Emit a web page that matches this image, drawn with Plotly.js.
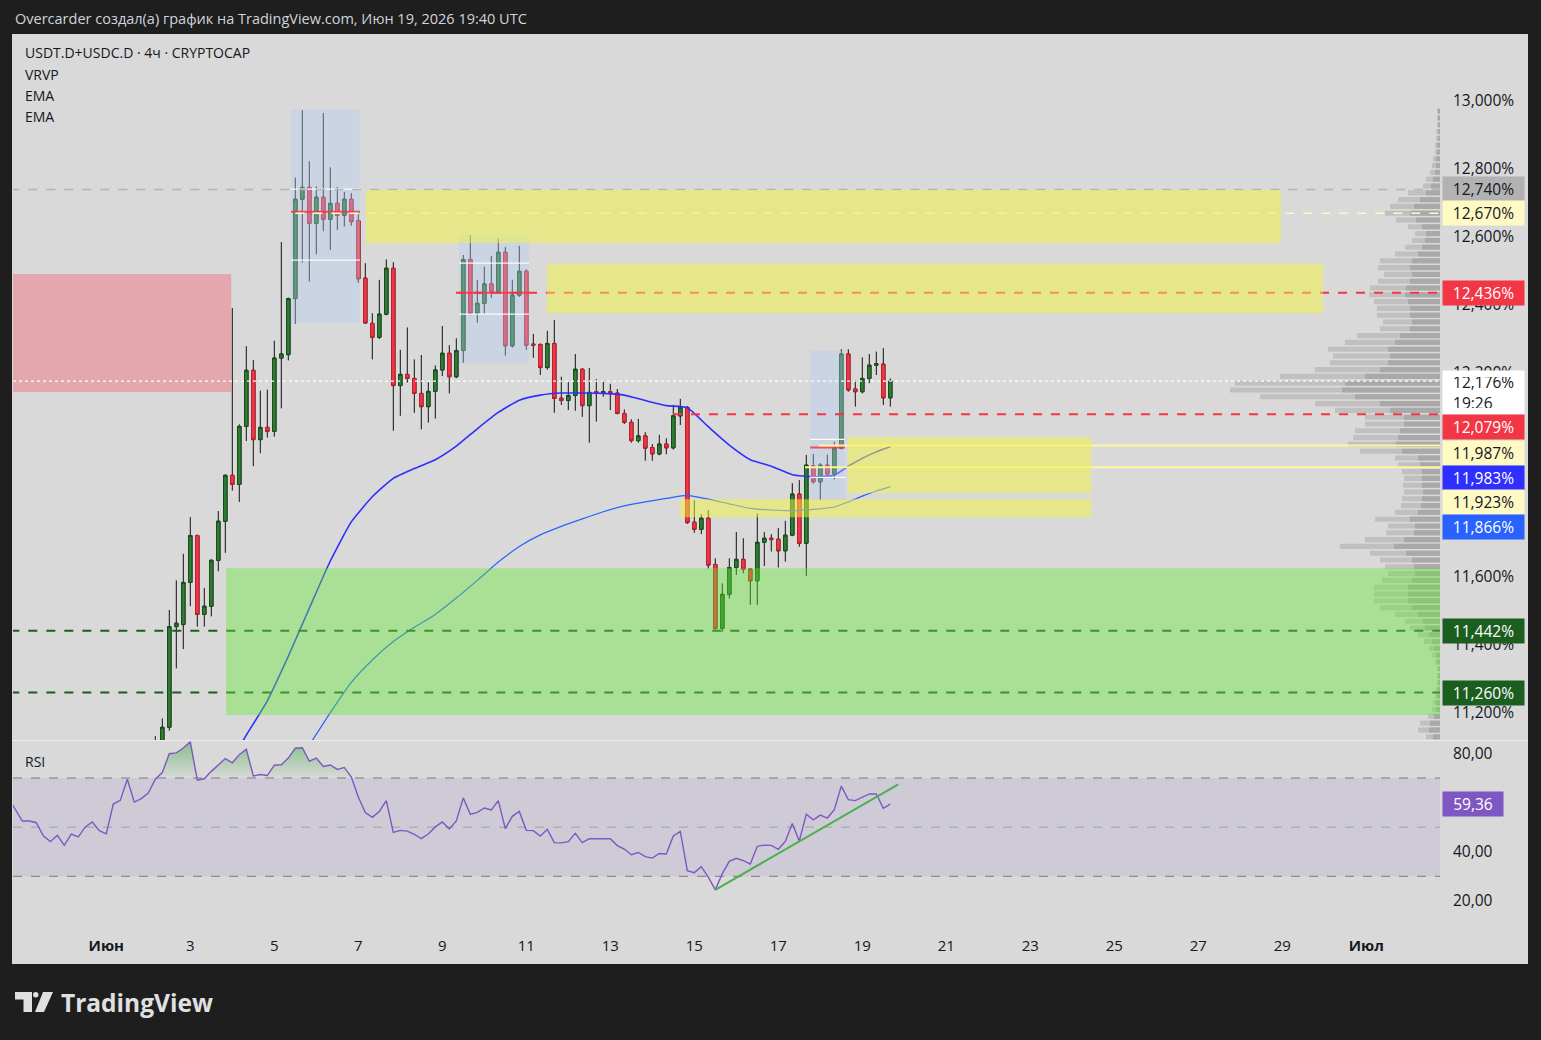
<!DOCTYPE html>
<html><head><meta charset="utf-8">
<script src="https://cdn.plot.ly/plotly-3.0.1.min.js"></script>
<style>html,body{margin:0;padding:0;background:#1e1e1e;}#chart{width:1541px;height:1040px;}</style>
</head><body><div id="chart"></div>
<script>
// ---------- DATA ----------
// 4h candles, index 0 = 2026-06-02 08:00 UTC, first entry is index -3
const candleFirstIndex = -3;
const opens = [
 10.98,11.00,11.04,11.08,11.158,11.454,11.46,11.584,11.722,11.49,
 11.514,11.649,11.764,11.899,11.872,12.043,12.208,12.004,12.04,12.028,
 12.244,12.254,12.419,12.711,12.746,12.64,12.717,12.652,12.699,12.664,
 12.711,12.648,12.479,12.346,12.305,12.373,12.508,12.163,12.196,12.184,
 12.14,12.101,12.146,12.209,12.258,12.189,12.266,12.534,12.376,12.405,
 12.462,12.439,12.555,12.28,12.429,12.499,12.285,12.284,12.216,12.287,
 12.126,12.119,12.134,12.211,12.104,12.145,12.142,12.145,12.141,12.081,
 12.055,12.001,12.015,11.981,11.962,11.991,11.98,12.074,12.099,11.761,
 11.74,11.773,11.637,11.449,11.549,11.628,11.652,11.623,11.589,11.702,
 11.714,11.711,11.677,11.723,11.844,11.699,11.927,11.88,11.929,11.903,
 11.979,12.256,12.153,12.145,12.184,12.223,12.226,12.127];
const highs = [
 11.02,11.06,11.132,11.184,11.503,11.59,11.668,11.776,11.725,11.568,
 11.652,11.794,11.902,12.391,12.049,12.279,12.238,12.148,12.151,12.295,
 12.585,12.422,12.775,12.973,12.823,12.749,12.965,12.805,12.747,12.733,
 12.729,12.667,12.523,12.376,12.474,12.534,12.526,12.268,12.334,12.24,
 12.253,12.173,12.222,12.338,12.282,12.302,12.547,12.606,12.474,12.513,
 12.544,12.596,12.571,12.474,12.574,12.505,12.315,12.287,12.324,12.356,
 12.189,12.173,12.256,12.214,12.215,12.182,12.177,12.168,12.153,12.093,
 12.064,12.065,12.026,11.991,12.018,12.008,12.106,12.124,12.103,11.826,
 11.785,11.797,11.655,11.581,11.655,11.732,11.714,11.626,11.787,11.732,
 11.726,11.744,11.765,11.876,11.885,11.959,11.962,11.935,11.96,11.998,
 12.27,12.27,12.179,12.246,12.256,12.263,12.273,12.184];
const lows = [
 10.95,10.98,11.02,11.06,11.148,11.331,11.388,11.514,11.454,11.454,
 11.484,11.617,11.671,11.854,11.821,12.0,11.926,11.964,12.01,12.013,
 12.096,12.237,12.345,12.525,12.469,12.549,12.617,12.562,12.621,12.631,
 12.633,12.465,12.345,12.24,12.30,12.37,12.03,12.074,12.172,12.083,
 12.034,12.054,12.066,12.191,12.14,12.185,12.23,12.37,12.348,12.374,
 12.421,12.435,12.251,12.275,12.424,12.268,12.245,12.194,12.21,12.083,
 12.106,12.091,12.089,12.071,11.995,12.057,12.13,12.091,12.078,12.05,
 11.995,11.995,11.942,11.942,11.958,11.961,11.975,12.047,11.756,11.73,
 11.726,11.625,11.445,11.439,11.537,11.606,11.611,11.518,11.518,11.632,
 11.675,11.628,11.645,11.72,11.689,11.603,11.875,11.826,11.9,11.887,
 11.975,12.145,12.101,12.14,12.17,12.194,12.106,12.101];
const closes = [
 11.00,11.04,11.08,11.158,11.454,11.464,11.584,11.722,11.49,11.514,
 11.649,11.764,11.899,11.872,12.043,12.208,12.004,12.04,12.028,12.244,
 12.256,12.419,12.711,12.746,12.64,12.717,12.652,12.699,12.664,12.711,
 12.645,12.477,12.347,12.305,12.373,12.508,12.163,12.196,12.184,12.14,
 12.101,12.146,12.209,12.258,12.189,12.266,12.534,12.376,12.405,12.462,
 12.439,12.555,12.28,12.429,12.499,12.282,12.282,12.216,12.287,12.125,
 12.119,12.134,12.211,12.104,12.143,12.142,12.145,12.142,12.081,12.055,
 12.001,12.015,11.979,11.962,11.991,11.98,12.074,12.099,11.76,11.74,
 11.773,11.635,11.449,11.549,11.628,11.652,11.623,11.589,11.702,11.714,
 11.71,11.677,11.723,11.844,11.699,11.929,11.88,11.929,11.903,11.979,
 12.256,12.15,12.145,12.184,12.223,12.227,12.127,12.176];

// EMA lines, read at these candle indices
const emaIndex = [9,12,15,18,21,24,27,30,33,36,39,42,45,48,51,54,57,60,63,66,69,72,75,78,81,84,87,90,93,96,98,100,102,104];
const emaFast = [11.03,11.135,11.236,11.367,11.508,11.647,11.762,11.836,11.890,11.919,11.945,11.985,12.036,12.084,12.120,12.135,12.141,12.141,12.140,12.135,12.119,12.104,12.098,12.042,11.988,11.945,11.926,11.901,11.895,11.899,11.926,11.949,11.968,11.983];
const emaSlow = [null,null,null,11.02,11.106,11.201,11.290,11.356,11.410,11.452,11.490,11.538,11.590,11.644,11.690,11.724,11.749,11.771,11.792,11.809,11.821,11.831,11.840,11.829,11.815,11.802,11.797,11.795,11.799,11.806,11.821,11.838,11.853,11.866];

// RSI, first value at candle index -22
const rsiFirstIndex = -22;
const rsiValues = [
 62,57.0,52.5,52.5,51.8,46.5,44.1,46.7,42.6,47.2,
 46.0,50.1,52.1,48.6,47.3,59.4,60.9,69.5,60.2,61.6,
 63.9,69.5,72.2,79.9,80.2,82.2,84.7,69.1,69.7,72.7,
 75.2,77.9,76.2,79.5,81.7,70.8,71.4,71.0,75.2,75.4,
 78.1,82.1,82.3,76.9,78.1,74.7,75.3,73.5,74.3,70.4,
 62.3,55.9,54.0,56.4,60.8,47.9,48.7,48.4,47.1,45.3,
 47.2,50.1,52.1,49.3,52.5,61.9,55.2,56.0,57.8,57.0,
 60.8,49.4,54.4,56.4,48.7,48.6,46.4,49.1,43.7,43.6,
 44.1,47.5,43.7,45.3,45.3,45.3,45.3,42.5,41.1,38.8,
 39.7,38.0,37.4,39.3,39.1,46.4,48.3,32.3,31.5,33.9,
 29.7,24.5,31.1,36.1,37.3,36.4,35.0,42.2,42.7,42.6,
 41.0,44.2,51.5,44.4,55.3,53.0,54.9,53.7,57.1,66.7,
 61.2,60.8,62.3,63.5,63.5,57.7,59.36];

// Visible range volume profile: rows from 12.97 down by 0.02
const vpTopPrice = 12.97, vpRowStep = 0.02;
const vpTotal = [3,3,3,4,4,5,5,7,8,10, 14,17,32,42,50,55,44,32,25,28, 35,45,60,62,56,62,70,71,66,63,
 63,57,60,83,95,112,107,110,125,160, 205,210,180,125,105,75,75,85,87,92, 80,45,42,38,36,37,36,38,39,45,
 65,52,54,75,100,70,60,55,52,58, 66,66,66,60,45,35,30,22,16,11, 8,5,3,3,3,4,5,7,8,12, 20,22,14];
const vpUp = [2,2,2,2,2,3,3,4,4,5, 7,9,14,20,26,30,24,18,14,15, 18,22,28,30,28,30,34,35,32,30,
 30,28,30,40,45,52,50,52,60,75, 95,98,85,60,50,36,36,40,42,44, 38,22,20,18,18,18,17,18,19,22,
 30,25,26,36,46,34,28,26,25,28, 32,32,32,28,22,17,15,11,8,6, 4,3,2,2,2,2,3,4,4,6, 10,11,7];

// zones (price boxes)
const zoneNames  = ['supply','yellow1','yellow2','yellow3','yellow4','demand'];
const zoneStart  = ['2026-05-28 00:00','2026-06-07 04:24','2026-06-11 11:50','2026-06-18 15:50','2026-06-14 15:50','2026-06-03 20:24'];
const zoneEnd    = ['2026-06-03 23:22','2026-06-28 23:15','2026-06-29 23:15','2026-06-24 10:41','2026-06-24 10:41','2026-07-05 00:00'];
const zoneTop    = [12.491,12.738,12.521,12.012,11.829,11.626];
const zoneBottom = [12.144,12.582,12.376,11.847,11.776,11.194];

// horizontal levels
const levelPrice = [12.740,12.670,12.436,12.079,11.987,11.923,11.442,11.260];
const levelStart = ['2026-05-28 00:00','2026-06-05 12:00','2026-06-09 07:50','2026-06-14 11:50','2026-06-17 23:15','2026-06-17 15:16','2026-05-28 00:00','2026-05-28 00:00'];
const lastPrice = 12.176, lastRsi = 59.36, emaFastLast = 11.983, emaSlowLast = 11.866;
const countdown = '19:26';

// fixed range volume profile boxes
const vpBoxStart = ['2026-06-05 09:33','2026-06-09 09:33','2026-06-17 18:07'];
const vpBoxEnd   = ['2026-06-07 00:58','2026-06-11 01:32','2026-06-18 14:07'];
const vpBoxHigh  = [12.974,12.606,12.266];
const vpBoxLow   = [12.347,12.228,11.826];
const vpBoxVAH   = [12.741,12.523,12.005];
const vpBoxVAL   = [12.532,12.373,11.893];
const vpBoxPOC   = [12.674,12.436,11.981];

// RSI trend line
const trendStart = ['2026-06-15 12:00', 24.5];
const trendEnd   = ['2026-06-19 20:34', 67.4];

const xTickDates = ['2026-06-01','2026-06-03','2026-06-05','2026-06-07','2026-06-09','2026-06-11','2026-06-13','2026-06-15','2026-06-17','2026-06-19','2026-06-21','2026-06-23','2026-06-25','2026-06-27','2026-06-29','2026-07-01'];
const xTickText  = ['<b>Июн</b>','3','5','7','9','11','13','15','17','19','21','23','25','27','29','<b>Июл</b>'];
const priceTicks = [11.2,11.4,11.6,12.2,12.4,12.6,12.8,13.0];
const rsiTicks = [20,40,80];

// ---------- HELPERS ----------
function tIdx(k){ const d=new Date(Date.UTC(2026,5,2,8)+k*4*3600e3); return d.toISOString().slice(0,16).replace('T',' '); }
const L=13,R=1440,T=35,B=928;
const px = x => (x-L)/(R-L);
const py = y => (B-y)/(B-T);
const FONT = 'Open Sans, Noto Sans, sans-serif';
const TXT = '#131722';
const AX = 15.5;
const fmt = (v,d)=>v.toFixed(d).replace('.',',');

const cx = opens.map((_,i)=>tIdx(i+candleFirstIndex));
const bodyHi = opens.map((o,i)=>Math.max(o,closes[i]));
const bodyLo = opens.map((o,i)=>Math.min(o,closes[i]));
const rsiX = rsiValues.map((_,i)=>tIdx(i+rsiFirstIndex));
const emaX = emaIndex.map(k=>tIdx(k));
const vpY = vpTotal.map((_,i)=>+(vpTopPrice - i*vpRowStep).toFixed(3));

const traces = [
 {type:'bar', orientation:'h', x:vpTotal, y:vpY, xaxis:'x2', yaxis:'y', width:0.015, marker:{color:'#c0c0c0'}, hoverinfo:'skip', showlegend:false},
 {type:'bar', orientation:'h', x:vpUp, y:vpY, xaxis:'x2', yaxis:'y', width:0.015, marker:{color:'#a9a9a9'}, hoverinfo:'skip', showlegend:false},
 {type:'candlestick', x:cx, open:opens, high:highs, low:lows, close:closes, xaxis:'x', yaxis:'y',
  increasing:{line:{color:'#111111',width:1}, fillcolor:'#2e7d32'}, decreasing:{line:{color:'#111111',width:1}, fillcolor:'#f23645'},
  whiskerwidth:0, hoverinfo:'skip', showlegend:false},
 {type:'candlestick', x:cx, open:opens, high:bodyHi, low:bodyLo, close:closes, xaxis:'x', yaxis:'y',
  increasing:{line:{color:'#1b4d1e',width:1}, fillcolor:'#2e7d32'}, decreasing:{line:{color:'#c2202f',width:1}, fillcolor:'#f23645'},
  whiskerwidth:0, hoverinfo:'skip', showlegend:false},
 {type:'scatter', mode:'lines', x:emaX, y:emaSlow, line:{color:'#2962ff', width:1.2, shape:'spline', smoothing:0.5}, xaxis:'x', yaxis:'y', hoverinfo:'skip', showlegend:false},
 {type:'scatter', mode:'lines', x:emaX, y:emaFast, line:{color:'#2f2fff', width:1.6, shape:'spline', smoothing:0.5}, xaxis:'x', yaxis:'y', hoverinfo:'skip', showlegend:false},
 {type:'scatter', mode:'lines', x:rsiX, y:rsiValues.map(()=>70), line:{width:0, color:'rgba(0,0,0,0)'}, xaxis:'x', yaxis:'y2', hoverinfo:'skip', showlegend:false},
 {type:'scatter', mode:'lines', x:rsiX, y:rsiValues.map(v=>Math.max(v,70)), line:{width:0, color:'rgba(0,0,0,0)'}, fill:'tonexty',
  fillgradient:{type:'vertical', start:70, stop:85, colorscale:[[0,'rgba(76,175,80,0)'],[1,'rgba(76,175,80,0.6)']]},
  xaxis:'x', yaxis:'y2', hoverinfo:'skip', showlegend:false},
 {type:'scatter', mode:'lines', x:rsiX, y:rsiValues, line:{color:'#7e57c2', width:1.4}, xaxis:'x', yaxis:'y2', hoverinfo:'skip', showlegend:false}
];

const shapes = [];
// frame
shapes.push({type:'rect', xref:'paper', yref:'paper', x0:px(12), x1:px(1528), y0:py(34), y1:py(964), fillcolor:'#d9d9d9', line:{width:0}, layer:'below'});
// RSI band and levels
shapes.push({type:'rect', xref:'paper', yref:'y2', x0:0, x1:1, y0:30, y1:70, fillcolor:'rgba(126,87,194,0.1)', line:{width:0}, layer:'below'});
[70,30].forEach(v=>shapes.push({type:'line', xref:'paper', yref:'y2', x0:0, x1:1, y0:v, y1:v, line:{color:'#787b86', width:1, dash:'dash'}, layer:'below'}));
shapes.push({type:'line', xref:'paper', yref:'y2', x0:0, x1:1, y0:50, y1:50, line:{color:'rgba(120,123,134,0.55)', width:1, dash:'dash'}, layer:'below'});
// pane separator
shapes.push({type:'line', xref:'paper', yref:'paper', x0:px(12), x1:px(1528), y0:py(740.5), y1:py(740.5), line:{color:'#eeeeee', width:1}, layer:'above'});
// VP boxes
vpBoxStart.forEach((s,i)=>{
  shapes.push({type:'rect', xref:'x', yref:'y', x0:s, x1:vpBoxEnd[i], y0:vpBoxLow[i], y1:vpBoxHigh[i], fillcolor:'rgba(180,205,245,0.38)', line:{width:0}, layer:'above'});
  [vpBoxVAH[i], vpBoxVAL[i]].forEach(v=>shapes.push({type:'line', xref:'x', yref:'y', x0:s, x1:vpBoxEnd[i], y0:v, y1:v, line:{color:'rgba(255,255,255,0.9)', width:1.2}, layer:'above'}));
  shapes.push({type:'line', xref:'x', yref:'y', x0:s, x1:vpBoxEnd[i], y0:vpBoxPOC[i], y1:vpBoxPOC[i], line:{color:'rgba(242,54,69,0.85)', width:2}, layer:'above'});
});
// horizontal levels
const levelStyle = [
 {color:'#b5b5b5', width:1.5, dash:'dash'},
 {color:'#fff9c4', width:1.5, dash:'dash'},
 {color:'#f23645', width:2, dash:'dash'},
 {color:'#f23645', width:2, dash:'dash'},
 {color:'#fff59d', width:2, dash:'solid'},
 {color:'#fff59d', width:2, dash:'solid'},
 {color:'#1b5e20', width:2, dash:'dash'},
 {color:'#1b5e20', width:2, dash:'dash'}];
levelPrice.forEach((p,i)=>shapes.push({type:'line', xref:'x', yref:'y', x0:levelStart[i], x1:'2026-07-05 00:00', y0:p, y1:p, line:levelStyle[i], layer:'above'}));
// zones
const zoneFill = ['rgba(244,92,107,0.4)','rgba(243,243,59,0.5)','rgba(243,243,59,0.5)','rgba(243,243,59,0.5)','rgba(243,243,59,0.5)','rgba(97,234,47,0.4)'];
zoneStart.forEach((s,i)=>shapes.push({type:'rect', xref:'x', yref:'y', x0:s, x1:zoneEnd[i], y0:zoneBottom[i], y1:zoneTop[i], fillcolor:zoneFill[i], line:{width:0}, layer:'above'}));
// current price dotted line
shapes.push({type:'line', xref:'paper', yref:'y', x0:0, x1:1, y0:lastPrice, y1:lastPrice, line:{color:'#ffffff', width:1.2, dash:'dot'}, layer:'above'});
// RSI trend line
shapes.push({type:'line', xref:'x', yref:'y2', x0:trendStart[0], y0:trendStart[1], x1:trendEnd[0], y1:trendEnd[1], line:{color:'#4caf50', width:2}, layer:'above'});
// TradingView logo mark
const P = (x,y)=>px(x)+','+py(y);
shapes.push({type:'path', xref:'paper', yref:'paper', path:`M${P(15,992)} L${P(32,992)} L${P(32,1012)} L${P(23.5,1012)} L${P(23.5,999.5)} L${P(15,999.5)} Z`, fillcolor:'#e0e0e0', line:{width:0}, layer:'above'});
shapes.push({type:'circle', xref:'paper', yref:'paper', x0:px(33),x1:px(38.5),y0:py(992),y1:py(997.5), fillcolor:'#e0e0e0', line:{width:0}, layer:'above'});
shapes.push({type:'path', xref:'paper', yref:'paper', path:`M${P(43,992)} L${P(53,992)} L${P(44,1012)} L${P(35,1012)} Z`, fillcolor:'#e0e0e0', line:{width:0}, layer:'above'});

const annotations = [];
function txt(x,y,text,size,color,extra){ annotations.push(Object.assign({xref:'paper', yref:'paper', x:px(x), y:py(y), text:text, showarrow:false, xanchor:'left', yanchor:'middle', font:{family:FONT, size:size, color:color}}, extra||{})); }
txt(13,19,'Overcarder создал(а) график на TradingView.com, Июн 19, 2026 19:40 UTC',14.5,'#d1d4dc');
txt(23,53,'USDT.D+USDC.D · 4ч · CRYPTOCAP',14,TXT);
txt(23,74,'VRVP',14,TXT);
txt(23,95,'EMA',14,TXT);
txt(23,116,'EMA',14,TXT);
txt(23,761,'RSI',14,TXT);
txt(59,1002,'<b>TradingView</b>',24.5,'#e0e0e0');

// price labels on the axis
function lab(yref,val,text,bg,fg,shift,opts){
  annotations.push(Object.assign({xref:'paper', yref:yref, x:1, y:val, xanchor:'left', yanchor:'middle', xshift:2, yshift:shift||0,
    text:text, showarrow:false, bgcolor:bg, borderpad:2, width:77, height:20, align:'center',
    font:{family:FONT, size:AX, color:fg}}, opts||{}));
}
lab('y',levelPrice[0],fmt(levelPrice[0],3)+'%','#b2b2b2',TXT,0);
lab('y',levelPrice[1],fmt(levelPrice[1],3)+'%','#fff9c4',TXT,0);
lab('y',levelPrice[2],fmt(levelPrice[2],3)+'%','#f23645','#ffffff',0);
lab('y',lastPrice,'&nbsp;'+fmt(lastPrice,3)+'%<br>&nbsp;'+countdown,'#ffffff',TXT,-11,{width:69,height:31,borderpad:6,align:'left'});
lab('y',levelPrice[3],fmt(levelPrice[3],3)+'%','#f23645','#ffffff',-13);
lab('y',levelPrice[4],fmt(levelPrice[4],3)+'%','#fff9c4',TXT,-8);
lab('y',emaFastLast,fmt(emaFastLast,3)+'%','#2f2fff','#ffffff',-31);
lab('y',levelPrice[5],fmt(levelPrice[5],3)+'%','#fff9c4',TXT,-35);
lab('y',emaSlowLast,fmt(emaSlowLast,3)+'%','#2962ff','#ffffff',-40);
lab('y',levelPrice[6],fmt(levelPrice[6],3)+'%','#1b5e20','#ffffff',0);
lab('y',levelPrice[7],fmt(levelPrice[7],3)+'%','#1b5e20','#ffffff',0);
lab('y2',lastRsi,fmt(lastRsi,2),'#7e57c2','#ffffff',0,{width:56});

const layout = {
  width:1541, height:1040, paper_bgcolor:'#1e1e1e', plot_bgcolor:'rgba(0,0,0,0)',
  margin:{l:L, r:1541-R, t:T, b:1040-B}, showlegend:false, separators:', ',
  font:{family:FONT, color:TXT, size:14}, dragmode:false, boxmode:'overlay', barmode:'overlay',
  xaxis:{type:'date', range:['2026-05-29 18:41','2026-07-02 18:07'], anchor:'y2', tickvals:xTickDates, ticktext:xTickText,
    showgrid:false, zeroline:false, showline:false, ticks:'', ticklabelstandoff:7, tickfont:{family:FONT, size:15, color:TXT},
    rangeslider:{visible:false}, fixedrange:true},
  xaxis2:{overlaying:'x', anchor:'y', range:[R-L,0], visible:false, fixedrange:true},
  yaxis:{domain:[(B-740)/(B-T),1], range:[11.1206,13.1941], side:'right', tickvals:priceTicks, ticktext:priceTicks.map(v=>fmt(v,3)+'%'),
    showgrid:false, zeroline:false, showline:false, ticks:'', ticklabelstandoff:12, tickfont:{family:FONT, size:AX, color:TXT}, fixedrange:true},
  yaxis2:{domain:[0,(B-741)/(B-T)], range:[8.96,85.06], side:'right', tickvals:rsiTicks, ticktext:rsiTicks.map(v=>fmt(v,2)),
    showgrid:false, zeroline:false, showline:false, ticks:'', ticklabelstandoff:12, tickfont:{family:FONT, size:AX, color:TXT}, fixedrange:true},
  shapes:shapes, annotations:annotations
};
Plotly.newPlot('chart', traces, layout, {displayModeBar:false, staticPlot:true});
</script></body></html>
